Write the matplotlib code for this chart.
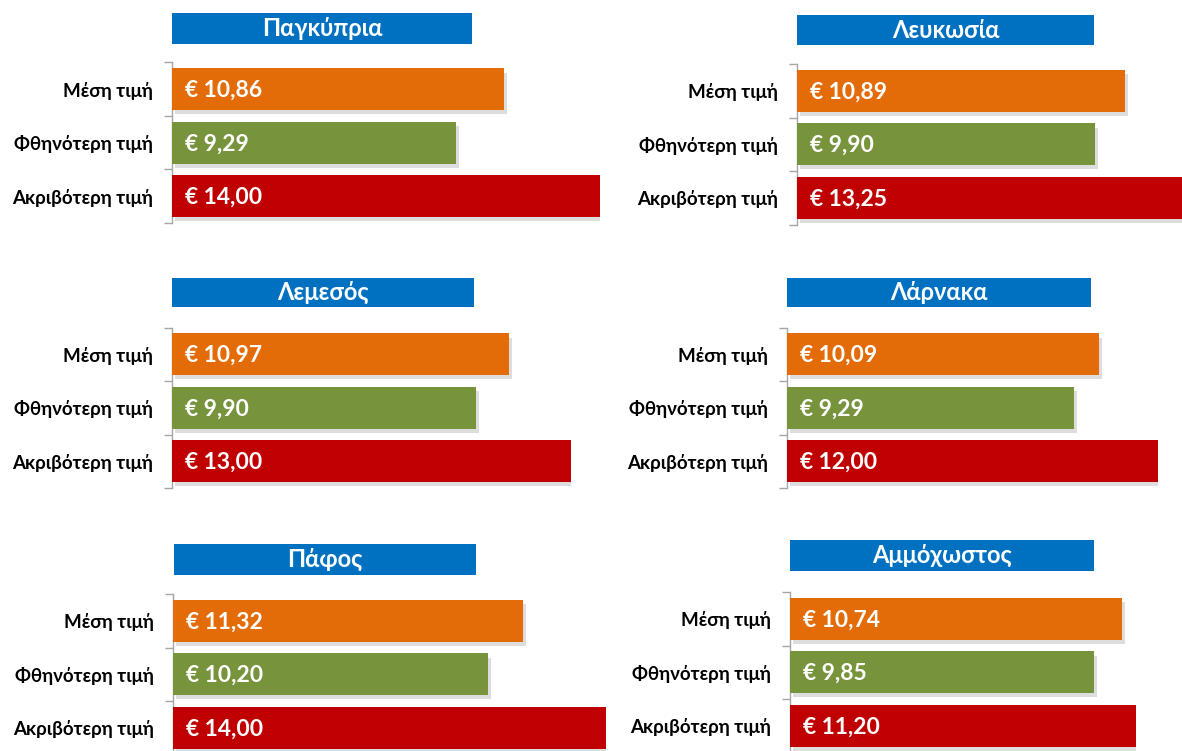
import matplotlib
matplotlib.use("Agg")
import matplotlib.pyplot as plt
import matplotlib.patheffects as pe
from matplotlib.patches import Rectangle

# ---- data ----
regions = ["Παγκύπρια", "Λευκωσία", "Λεμεσός", "Λάρνακα", "Πάφος", "Αμμόχωστος"]
categories = ["Μέση τιμή", "Φθηνότερη τιμή", "Ακριβότερη τιμή"]
avg_price = [10.86, 10.89, 10.97, 10.09, 11.32, 10.74]
min_price = [9.29, 9.90, 9.90, 9.29, 10.20, 9.85]
max_price = [14.00, 13.25, 13.00, 12.00, 14.00, 11.20]

# ---- style / layout ----
bar_colors = ["#E36C09", "#77933C", "#C00000"]
title_color = "#0070C0"
FAMILY = ["Lato", "Noto Sans", "DejaVu Sans"]
W, H = 1182, 751

# per panel: title box (x0, x1, ytop, ybot), spine x, spine top y, px per unit
layout = [
    dict(tb=(172, 472, 13, 44), x=172, y=62.5, s=30.6),
    dict(tb=(797, 1094, 15, 45), x=797, y=64.0, s=30.1),
    dict(tb=(172, 474, 278, 307), x=172, y=327.5, s=30.7),
    dict(tb=(787, 1091, 278, 307), x=787, y=327.5, s=30.9),
    dict(tb=(174, 476, 544, 575), x=173, y=594.0, s=30.9),
    dict(tb=(790, 1094, 540, 571), x=790, y=592.0, s=30.9),
]
CAT_H = 53.5

fig = plt.figure(figsize=(W / 100, H / 100), dpi=100)
fig.patch.set_facecolor("white")


def fmt(v):
    return "€ " + f"{v:.2f}".replace(".", ",")


for i, reg in enumerate(regions):
    L = layout[i]
    vals = [avg_price[i], min_price[i], max_price[i]]
    vmax = max(vals)
    wpx = L["s"] * vmax
    hpx = CAT_H * 3
    ax = fig.add_axes([L["x"] / W, 1 - (L["y"] + hpx) / H, wpx / W, hpx / H])
    ax.set_xlim(0, vmax)
    ax.set_ylim(2.5, -0.5)
    bars = ax.barh(range(3), vals, height=0.78, color=bar_colors, zorder=3)
    for b in bars:
        b.set_path_effects([pe.SimplePatchShadow(offset=(2, -3), shadow_rgbFace="#909090", alpha=0.3),
                            pe.Normal()])
    for j, v in enumerate(vals):
        ax.annotate(fmt(v), xy=(0, j), xytext=(13, -1), textcoords="offset pixels",
                    ha="left", va="center", color="white", fontsize=16.5,
                    fontweight="bold", family=FAMILY, zorder=4)
    for sp in ["top", "right", "bottom"]:
        ax.spines[sp].set_visible(False)
    ax.spines["left"].set_color("#A6A6A6")
    ax.spines["left"].set_linewidth(1.0)
    ax.set_xticks([])
    ax.set_yticks([-0.5, 0.5, 1.5, 2.5])
    ax.set_yticklabels([])
    ax.tick_params(axis="y", which="major", length=6, width=1.0, color="#A6A6A6", direction="out")
    ax.set_yticks([0, 1, 2], minor=True)
    ax.set_yticklabels(categories, minor=True, fontsize=13.5, fontweight="bold", family=FAMILY)
    ax.tick_params(axis="y", which="minor", length=0, pad=14)
    ax.set_facecolor("none")

    # title box
    x0, x1, yt, yb = L["tb"]
    fig.add_artist(Rectangle((x0 / W, 1 - yb / H), (x1 - x0) / W, (yb - yt) / H,
                             transform=fig.transFigure, facecolor=title_color,
                             edgecolor="none"))
    fig.text((x0 + x1) / 2 / W, 1 - (yt + yb) / 2 / H, reg, ha="center", va="center",
             color="white", fontsize=17, fontweight="bold", family=FAMILY)

fig.savefig("out.png", dpi=100)
